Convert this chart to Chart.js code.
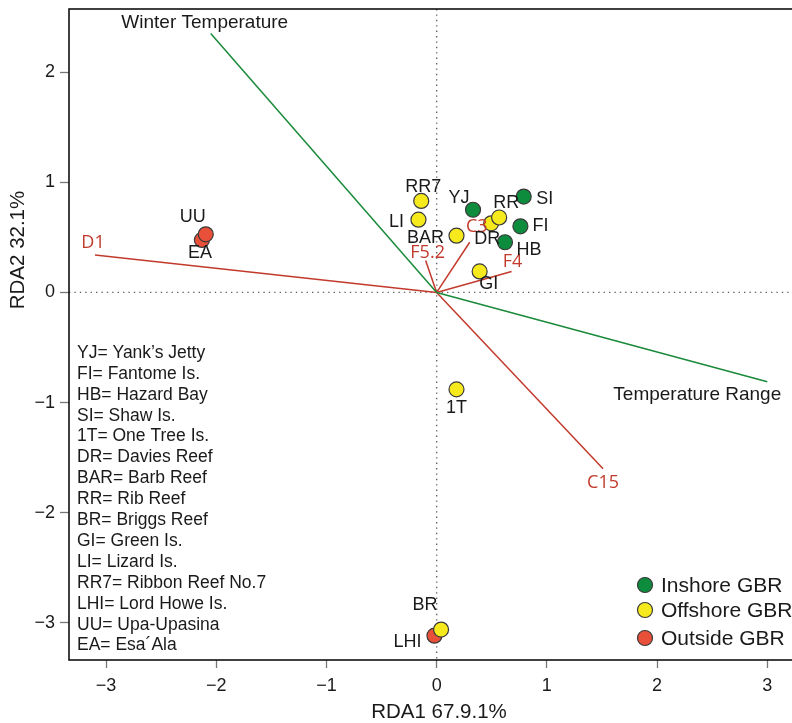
<!DOCTYPE html>
<html lang="en">
<head>
  <meta charset="UTF-8" />
  <title>RDA biplot</title>
  <style>
    html, body { margin: 0; padding: 0; background: #ffffff; overflow: hidden; }
    #wrap { width: 792px; height: 723px; overflow: hidden; }
  </style>
</head>
<body>
  <!-- canvas is a little wider than the window so the right frame edge falls outside, as in the source -->
  <div id="wrap"><canvas id="grafico" width="801" height="723"></canvas></div>

  <script src="https://cdn.jsdelivr.net/npm/chart.js"></script>
  <script>
    // sites
    const siteCodes = ['YJ', 'FI', 'HB', 'SI', '1T', 'DR', 'BAR', 'RR', 'BR', 'GI', 'LI', 'RR7', 'LHI', 'EA', 'UU'];
    const siteX = [0.33, 0.76, 0.62, 0.79, 0.18, 0.495, 0.18, 0.567, 0.04, 0.39, -0.165, -0.14, -0.02, -2.13, -2.095];
    const siteY = [0.75, 0.60, 0.455, 0.87, -0.88, 0.627, 0.515, 0.68, -3.06, 0.19, 0.66, 0.83, -3.115, 0.476, 0.527];
    const siteGroup = ['in', 'in', 'in', 'in', 'off', 'off', 'off', 'off', 'off', 'off', 'off', 'off', 'out', 'out', 'out'];
    // label offset in px from the point
    const siteLabelDx = [-14, 20, 24, 21, 0, -4, -31, 7, -16, 9, -22, 2, -27, -2, -13];
    const siteLabelDy = [-12, 0, 8, 2, 19, 16, 2, -14, -25, 13, 2, -14, 6, 13, -17];

    // groups
    const groupKeys = ['in', 'off', 'out'];
    const groupNames = ['Inshore GBR', 'Offshore GBR', 'Outside GBR'];
    const groupColors = ['#0c8c3c', '#f7ea1c', '#e8503a'];

    // environmental / symbiont vectors
    const vectorNames = ['Winter Temperature', 'Temperature Range', 'D1', 'C3', 'F5.2', 'F4', 'C15'];
    const vectorX = [-2.05, 3.00, -3.10, 0.30, -0.10, 0.68, 1.51];
    const vectorY = [2.35, -0.81, 0.34, 0.455, 0.29, 0.19, -1.60];
    const vectorKind = ['env', 'env', 'sym', 'sym', 'sym', 'sym', 'sym'];
    const vectorLabelDx = [-6, -70, -2, 7, 2, 1, 0];
    const vectorLabelDy = [-11, 13, -12, -15, -8, -10, 14];

    // site key list
    const siteKey = [
      'YJ= Yank\u2019s Jetty', 'FI= Fantome Is.', 'HB= Hazard Bay', 'SI= Shaw Is.',
      '1T= One Tree Is.', 'DR= Davies Reef', 'BAR= Barb Reef', 'RR= Rib Reef',
      'BR= Briggs Reef', 'GI= Green Is.', 'LI= Lizard Is.', 'RR7= Ribbon Reef No.7',
      'LHI= Lord Howe Is.', 'UU= Upa-Upasina', 'EA= Esa\u00b4Ala'
    ];

    const xTicks = [-3, -2, -1, 0, 1, 2, 3];
    const yTicks = [-3, -2, -1, 0, 1, 2];
    const xTitle = 'RDA1 67.9.1%';
    const yTitle = 'RDA2 32.1%';

    const GREEN = '#1a8a3a';
    const RED = '#c23a2c';
    const SANS = '"Liberation Sans", Arial, sans-serif';

    const datasets = [];
    vectorNames.forEach((n, i) => {
      datasets.push({
        type: 'line',
        label: n,
        data: [{ x: 0, y: 0 }, { x: vectorX[i], y: vectorY[i] }],
        borderColor: vectorKind[i] === 'env' ? GREEN : RED,
        borderWidth: 1.5,
        pointRadius: 0,
        fill: false,
        order: 10
      });
    });
    // red bottom, then yellow, green on top
    groupKeys.forEach((g, gi) => {
      const pts = [];
      siteCodes.forEach((c, i) => {
        if (siteGroup[i] === g) pts.push({ x: siteX[i], y: siteY[i] });
      });
      datasets.push({
        type: 'scatter',
        label: groupNames[gi],
        data: pts,
        backgroundColor: groupColors[gi],
        borderColor: '#3a3a3a',
        borderWidth: 1.2,
        pointRadius: 7.5,
        order: gi
      });
    });

    const minus = v => String(v).replace('-', '\u2212');

    const extras = {
      id: 'extras',
      beforeDatasetsDraw(chart) {
        const { ctx, chartArea: a, scales: { x, y } } = chart;
        const x0 = x.getPixelForValue(0), y0 = y.getPixelForValue(0);
        ctx.save();
        ctx.strokeStyle = '#666';
        ctx.lineWidth = 1.4;
        ctx.setLineDash([1.4, 4]);
        ctx.beginPath();
        ctx.moveTo(x0, a.top); ctx.lineTo(x0, a.bottom);
        ctx.moveTo(a.left, y0); ctx.lineTo(a.right, y0);
        ctx.stroke();
        ctx.restore();
      },
      afterDatasetsDraw(chart) {
        const { ctx, chartArea: a, scales: { x, y } } = chart;
        ctx.save();
        // vector labels
        ctx.textAlign = 'center';
        ctx.textBaseline = 'middle';
        vectorNames.forEach((n, i) => {
          const px = x.getPixelForValue(vectorX[i]) + vectorLabelDx[i];
          const py = y.getPixelForValue(vectorY[i]) + vectorLabelDy[i];
          if (vectorKind[i] === 'env') {
            ctx.fillStyle = '#1a1a1a';
            ctx.font = '19px ' + SANS;
          } else {
            ctx.fillStyle = RED;
            ctx.font = '18px "Open Sans", sans-serif';
          }
          ctx.fillText(n, px, py);
        });
        // site labels
        ctx.fillStyle = '#1a1a1a';
        ctx.font = '18px ' + SANS;
        siteCodes.forEach((c, i) => {
          ctx.fillText(c, x.getPixelForValue(siteX[i]) + siteLabelDx[i], y.getPixelForValue(siteY[i]) + siteLabelDy[i]);
        });
        // site key
        ctx.textAlign = 'left';
        ctx.font = '17.5px ' + SANS;
        siteKey.forEach((t, i) => {
          ctx.fillText(t, a.left + 8, 353 + i * 20.9);
        });
        // legend
        const legY = [585, 610, 638];
        groupNames.forEach((n, i) => {
          ctx.beginPath();
          ctx.arc(645, legY[i], 7.5, 0, Math.PI * 2);
          ctx.fillStyle = groupColors[i];
          ctx.fill();
          ctx.lineWidth = 1.2;
          ctx.strokeStyle = '#3a3a3a';
          ctx.stroke();
          ctx.fillStyle = '#1a1a1a';
          ctx.font = '21px ' + SANS;
          ctx.fillText(n, 661, legY[i] + 1);
        });
        // frame (right edge falls outside the picture)
        ctx.strokeStyle = '#111';
        ctx.lineWidth = 1.6;
        ctx.strokeRect(a.left, a.top, a.right - a.left + 12, a.bottom - a.top);
        // axis titles
        ctx.fillStyle = '#1a1a1a';
        ctx.font = '20.5px ' + SANS;
        ctx.textAlign = 'center';
        ctx.fillText(xTitle, 439, 712);
        ctx.translate(18, 250);
        ctx.rotate(-Math.PI / 2);
        ctx.fillText(yTitle, 0, 0);
        ctx.restore();
      }
    };

    const noPad = s => { s.paddingLeft = 0; s.paddingRight = 0; s.paddingTop = 0; s.paddingBottom = 0; };

    new Chart(document.getElementById('grafico'), {
      type: 'scatter',
      data: { datasets },
      options: {
        responsive: false,
        animation: false,
        events: [],
        layout: { padding: { top: 9, right: 0, left: 0, bottom: 0 } },
        plugins: { legend: { display: false }, tooltip: { enabled: false } },
        scales: {
          x: {
            type: 'linear',
            min: -3.336,
            max: 3.227,
            afterFit: s => { s.height = 63; noPad(s); },
            afterBuildTicks: s => { s.ticks = xTicks.map(v => ({ value: v })); },
            grid: { drawOnChartArea: false, tickLength: 8, color: '#777', tickWidth: 1.3 },
            border: { display: false },
            ticks: { color: '#1a1a1a', font: { size: 18, family: SANS }, padding: 7, callback: v => minus(v) }
          },
          y: {
            type: 'linear',
            min: -3.336,
            max: 2.572,
            afterFit: s => { s.width = 69; noPad(s); },
            afterBuildTicks: s => { s.ticks = yTicks.map(v => ({ value: v })); },
            grid: { drawOnChartArea: false, tickLength: 9, color: '#777', tickWidth: 1.3 },
            border: { display: false },
            ticks: { color: '#1a1a1a', font: { size: 18, family: SANS }, padding: 5, callback: v => minus(v) }
          }
        }
      },
      plugins: [extras]
    });
  </script>
</body>
</html>
